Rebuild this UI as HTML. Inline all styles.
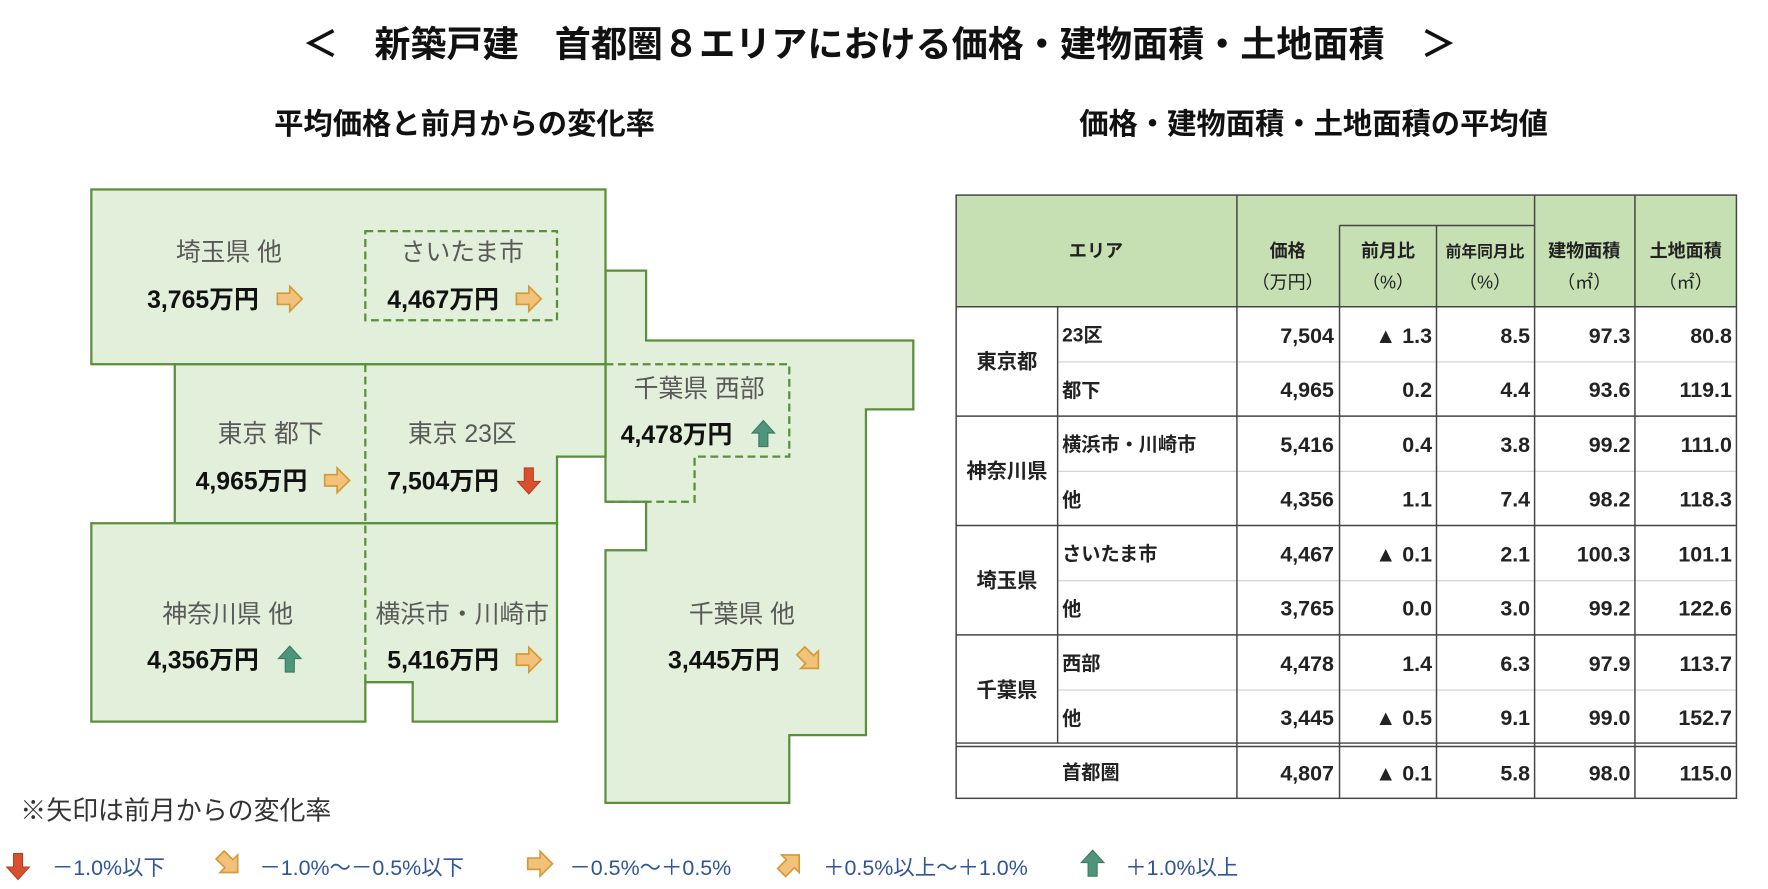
<!DOCTYPE html>
<html><head><meta charset="utf-8">
<style>
html,body{margin:0;padding:0;background:#fff;}
svg{display:block;}
text{font-family:"Liberation Sans","Noto Sans CJK JP",sans-serif;}
</style></head>
<body>
<svg width="1768" height="889" viewBox="0 0 1568 788.4" xmlns="http://www.w3.org/2000/svg">
<defs>
<path id="ar" d="M-11,-5 H0 V-11 L11,0 L0,11 V5 H-11 Z" fill="#f3c27a" stroke="#d49a3a" stroke-width="1.5"/>
<path id="au" d="M-4,11 V-1 H-10 L0,-12 L10,-1 H4 V11 Z" fill="#4e957c" stroke="#3e7a63" stroke-width="1"/>
<path id="ad" d="M-4,-11 V1 H-10 L0,12 L10,1 H4 V-11 Z" fill="#d8502f" stroke="#b8401f" stroke-width="1"/>
<g id="add"><use href="#ar" transform="rotate(45)"/></g>
<g id="adu"><use href="#ar" transform="rotate(-45)"/></g>
</defs>

<text x="780" y="50" font-size="32" font-weight="bold" text-anchor="middle" fill="#111">＜　新築戸建　首都圏８エリアにおける価格・建物面積・土地面積　＞</text>
<text x="412" y="119" font-size="26" font-weight="bold" text-anchor="middle" fill="#111">平均価格と前月からの変化率</text>
<text x="1165" y="119" font-size="26" font-weight="bold" text-anchor="middle" fill="#111">価格・建物面積・土地面積の平均値</text>

<!-- map -->
<g fill="#e2efda" stroke="#5a8f3c" stroke-width="2">
<polygon points="537,240 573,240 573,302 810,302 810,363 768,363 768,652 700,652 700,712 537,712 537,488 573,488 573,445 537,445 537,323 537,240"/>
<rect x="81" y="168" width="456" height="155"/>
<polygon points="155,323 537,323 537,405 494,405 494,464 155,464"/>
<polygon points="81,464 494,464 494,640 366,640 366,605 324,605 324,640 81,640"/>
</g>
<g fill="none" stroke="#5a8f3c" stroke-width="2" stroke-dasharray="7,4">
<rect x="324" y="205" width="170" height="79"/>
<line x1="324" y1="323" x2="324" y2="605"/>
<polyline points="537,323 700,323 700,405 616,405 616,445 537,445"/>
</g>
<g font-size="22" fill="#595959" text-anchor="middle">
<text x="203" y="231">埼玉県 他</text>
<text x="410" y="231">さいたま市</text>
<text x="240" y="392">東京 都下</text>
<text x="410" y="392">東京 23区</text>
<text x="620" y="352">千葉県 西部</text>
<text x="202" y="552">神奈川県 他</text>
<text x="410" y="552">横浜市・川崎市</text>
<text x="658" y="552">千葉県 他</text>
</g>
<g font-size="22" font-weight="bold" fill="#111" text-anchor="middle">
<text x="180" y="273">3,765万円</text>
<text x="393" y="273">4,467万円</text>
<text x="223" y="434">4,965万円</text>
<text x="393" y="434">7,504万円</text>
<text x="600" y="393">4,478万円</text>
<text x="180" y="593">4,356万円</text>
<text x="393" y="593">5,416万円</text>
<text x="642" y="593">3,445万円</text>
</g>
<use href="#ar" x="257" y="265"/>
<use href="#ar" x="469" y="265"/>
<use href="#ar" x="299" y="426"/>
<use href="#ad" x="469" y="426"/>
<use href="#au" x="677" y="385"/>
<use href="#au" x="257" y="585"/>
<use href="#ar" x="469" y="585"/>
<use href="#add" x="718" y="585"/>

<text x="18" y="727" font-size="23" fill="#333">※矢印は前月からの変化率</text>

<!-- legend -->
<g font-size="19" fill="#2f5597">
<use href="#ad" x="16" y="768"/><text x="46" y="776">－1.0%以下</text>
<use href="#add" x="203" y="766"/><text x="230" y="776">－1.0%～－0.5%以下</text>
<use href="#ar" x="479" y="766"/><text x="505" y="776">－0.5%～＋0.5%</text>
<use href="#adu" x="701" y="766"/><text x="730" y="776">＋0.5%以上～＋1.0%</text>
<use href="#au" x="969" y="766"/><text x="998" y="776">＋1.0%以上</text>
</g>

<!-- table -->
<rect x="848" y="173" width="692" height="99" fill="#c6e0b4"/>
<g stroke="#cfcfcf" stroke-width="1">
<line x1="938" y1="321" x2="1540" y2="321"/>
<line x1="938" y1="418" x2="1540" y2="418"/>
<line x1="938" y1="515" x2="1540" y2="515"/>
<line x1="938" y1="612" x2="1540" y2="612"/>
</g>
<g stroke="#444" stroke-width="1.3" fill="none">
<rect x="848" y="173" width="692" height="535"/>
<line x1="848" y1="272" x2="1540" y2="272"/>
<line x1="848" y1="369" x2="1540" y2="369"/>
<line x1="848" y1="466" x2="1540" y2="466"/>
<line x1="848" y1="563" x2="1540" y2="563"/>
<line x1="848" y1="659" x2="1540" y2="659"/>
<line x1="848" y1="662" x2="1540" y2="662"/>
<line x1="1188" y1="200" x2="1361" y2="200"/>
<line x1="938" y1="272" x2="938" y2="659"/>
<line x1="1097" y1="173" x2="1097" y2="708"/>
<line x1="1188" y1="200" x2="1188" y2="708"/>
<line x1="1274" y1="200" x2="1274" y2="708"/>
<line x1="1361" y1="173" x2="1361" y2="708"/>
<line x1="1450" y1="173" x2="1450" y2="708"/>
</g>
<g font-size="16" font-weight="bold" fill="#222" text-anchor="middle">
<text x="972" y="228">エリア</text>
<text x="1142" y="228">価格</text><text x="1142" y="256" font-weight="normal">（万円）</text>
<text x="1231" y="228">前月比</text><text x="1231" y="256" font-weight="normal">（%）</text>
<text x="1317" y="228" font-size="14">前年同月比</text><text x="1317" y="256" font-weight="normal">（%）</text>
<text x="1405" y="228">建物面積</text><text x="1405" y="256" font-weight="normal">（㎡）</text>
<text x="1495" y="228">土地面積</text><text x="1495" y="256" font-weight="normal">（㎡）</text>
</g>
<g font-size="18" font-weight="bold" fill="#222" text-anchor="middle">
<text x="893" y="327">東京都</text>
<text x="893" y="424">神奈川県</text>
<text x="893" y="521">埼玉県</text>
<text x="893" y="618">千葉県</text>
</g>
<g font-size="17" font-weight="bold" fill="#222">
<text x="942" y="303">23区</text>
<text x="942" y="352">都下</text>
<text x="942" y="400">横浜市・川崎市</text>
<text x="942" y="449">他</text>
<text x="942" y="497">さいたま市</text>
<text x="942" y="546">他</text>
<text x="942" y="594">西部</text>
<text x="942" y="643">他</text>
<text x="942" y="691">首都圏</text>
</g>
<g font-size="19" font-weight="bold" fill="#222" text-anchor="end">
<text x="1183" y="304">7,504</text><text x="1270" y="304">▲ 1.3</text><text x="1357" y="304">8.5</text><text x="1446" y="304">97.3</text><text x="1536" y="304">80.8</text>
<text x="1183" y="352">4,965</text><text x="1270" y="352">0.2</text><text x="1357" y="352">4.4</text><text x="1446" y="352">93.6</text><text x="1536" y="352">119.1</text>
<text x="1183" y="401">5,416</text><text x="1270" y="401">0.4</text><text x="1357" y="401">3.8</text><text x="1446" y="401">99.2</text><text x="1536" y="401">111.0</text>
<text x="1183" y="449">4,356</text><text x="1270" y="449">1.1</text><text x="1357" y="449">7.4</text><text x="1446" y="449">98.2</text><text x="1536" y="449">118.3</text>
<text x="1183" y="498">4,467</text><text x="1270" y="498">▲ 0.1</text><text x="1357" y="498">2.1</text><text x="1446" y="498">100.3</text><text x="1536" y="498">101.1</text>
<text x="1183" y="546">3,765</text><text x="1270" y="546">0.0</text><text x="1357" y="546">3.0</text><text x="1446" y="546">99.2</text><text x="1536" y="546">122.6</text>
<text x="1183" y="595">4,478</text><text x="1270" y="595">1.4</text><text x="1357" y="595">6.3</text><text x="1446" y="595">97.9</text><text x="1536" y="595">113.7</text>
<text x="1183" y="643">3,445</text><text x="1270" y="643">▲ 0.5</text><text x="1357" y="643">9.1</text><text x="1446" y="643">99.0</text><text x="1536" y="643">152.7</text>
<text x="1183" y="692">4,807</text><text x="1270" y="692">▲ 0.1</text><text x="1357" y="692">5.8</text><text x="1446" y="692">98.0</text><text x="1536" y="692">115.0</text>
</g>
</svg>
</body></html>
